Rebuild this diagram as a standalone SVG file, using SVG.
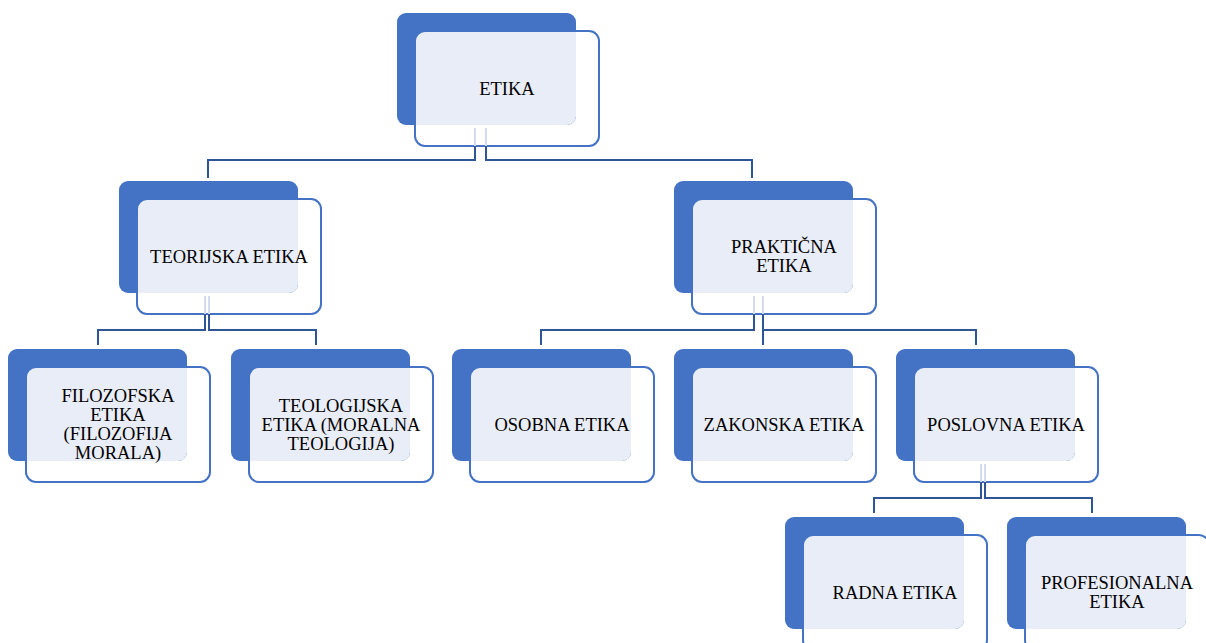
<svg xmlns="http://www.w3.org/2000/svg" xmlns:xlink="http://www.w3.org/1999/xlink" width="1206" height="643" viewBox="0 0 1206 643">
<style>
.back{fill:#4472C4}
.light{fill:#E9EDF7}
.front{fill:none;stroke:#4472C4;stroke-width:2}
.lbl{font-family:"Liberation Serif","Times New Roman",serif;font-size:18.5px;fill:#000;text-anchor:middle}
.conn{fill:none;stroke:#2F5597;stroke-width:2}
.pale{fill:none;stroke:#D3DCEF;stroke-width:2}
</style>
<defs>
<g id="shape">
<rect class="back" x="0" y="0" width="179" height="112" rx="9"/>
<path class="light" d="M18,28 a10,10 0 0 1 10,-10 H179 V103 a9,9 0 0 1 -9,9 H18 Z"/>
<rect class="front" x="18" y="18" width="184" height="115" rx="10"/>
</g>
</defs>
<rect width="1206" height="643" fill="#fff"/>
<g id="n-etika">
<use xlink:href="#shape" x="397" y="13"/>
<text class="lbl" x="507" y="95">ETIKA</text>
</g>
<g id="n-teorijska">
<use xlink:href="#shape" x="119" y="181"/>
<text class="lbl" x="229" y="263">TEORIJSKA ETIKA</text>
</g>
<g id="n-prakticna">
<use xlink:href="#shape" x="674" y="181"/>
<text class="lbl" x="784" y="253">PRAKTIČNA</text>
<text class="lbl" x="784" y="272">ETIKA</text>
</g>
<g id="n-filozofska">
<use xlink:href="#shape" x="8" y="349"/>
<text class="lbl" x="118" y="402">FILOZOFSKA</text>
<text class="lbl" x="118" y="421">ETIKA</text>
<text class="lbl" x="118" y="440">(FILOZOFIJA</text>
<text class="lbl" x="118" y="459">MORALA)</text>
</g>
<g id="n-teologijska">
<use xlink:href="#shape" x="231" y="349"/>
<text class="lbl" x="341" y="412">TEOLOGIJSKA</text>
<text class="lbl" x="341" y="431">ETIKA (MORALNA</text>
<text class="lbl" x="341" y="450">TEOLOGIJA)</text>
</g>
<g id="n-osobna">
<use xlink:href="#shape" x="452" y="349"/>
<text class="lbl" x="562" y="431">OSOBNA ETIKA</text>
</g>
<g id="n-zakonska">
<use xlink:href="#shape" x="674" y="349"/>
<text class="lbl" x="784" y="431">ZAKONSKA ETIKA</text>
</g>
<g id="n-poslovna">
<use xlink:href="#shape" x="896" y="349"/>
<text class="lbl" x="1006" y="431">POSLOVNA ETIKA</text>
</g>
<g id="n-radna">
<use xlink:href="#shape" x="785" y="517"/>
<text class="lbl" x="895" y="599">RADNA ETIKA</text>
</g>
<g id="n-profesionalna">
<use xlink:href="#shape" x="1007" y="517"/>
<text class="lbl" x="1117" y="589">PROFESIONALNA</text>
<text class="lbl" x="1117" y="608">ETIKA</text>
</g>
<g id="connectors">
<path class="pale" d="M475,128 V146 M486,128 V146"/>
<path class="conn" d="M475,146 V160 H208 V178"/>
<path class="conn" d="M486,146 V160 H752 V178"/>
<path class="pale" d="M205,296 V314 M209,296 V314"/>
<path class="conn" d="M205,314 V330 H98 V345"/>
<path class="conn" d="M209,314 V330 H316 V345"/>
<path class="pale" d="M754,296 V314 M763,296 V314"/>
<path class="conn" d="M754,314 V330 H541 V345"/>
<path class="conn" d="M763,314 V345 M763,330 H976 V345"/>
<path class="pale" d="M981,464 V482 M985,464 V482"/>
<path class="conn" d="M981,482 V498 H874 V513"/>
<path class="conn" d="M985,482 V498 H1092 V513"/>
</g>
</svg>
